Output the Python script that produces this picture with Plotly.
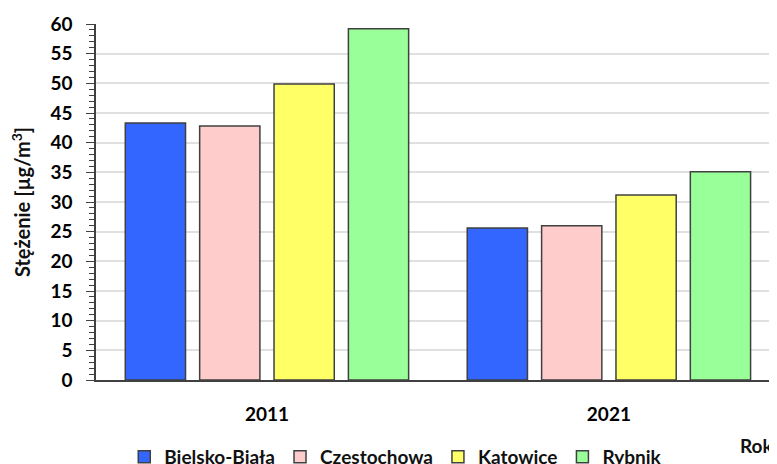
import plotly.graph_objects as go

# Data
years = ["2011", "2021"]
cities = ["Bielsko-Biała", "Czestochowa", "Katowice", "Rybnik"]
bielsko = [43.3, 25.6]
czestochowa = [42.8, 26.0]
katowice = [49.9, 31.2]
rybnik = [59.2, 35.1]
y_ticks = list(range(0, 61, 5))

colors = ["#3366FF", "#FFCCCC", "#FFFF66", "#99FF99"]
series = [bielsko, czestochowa, katowice, rybnik]

# the page body adds an 8px offset, so the layout below is shifted by -8px
font_family = "Lato, 'Open Sans', sans-serif"
tick_font = dict(family=font_family, size=19, color="black", weight="bold")
label_font = dict(family=font_family, size=19, color="#111111", weight="bold")

fig = go.Figure()
for name, vals, col in zip(cities, series, colors):
    fig.add_trace(go.Bar(
        x=years,
        y=vals,
        name=name,
        marker=dict(color=col, line=dict(color="#404040", width=1.5)),
    ))

fig.update_layout(
    width=777,
    height=464,
    barmode="group",
    bargap=0.13,
    bargroupgap=0.19,
    plot_bgcolor="white",
    paper_bgcolor="white",
    margin=dict(l=88, r=0, t=16, b=92, autoexpand=False),
    font=label_font,
    showlegend=True,
    legend=dict(
        orientation="h",
        x=0.041,
        xanchor="left",
        y=-0.216,
        yanchor="middle",
        font=label_font,
        itemwidth=30,
    ),
)

fig.update_xaxes(
    type="category",
    range=[-0.5, 1.515],
    automargin=False,
    showline=True,
    linecolor="#404040",
    linewidth=1.5,
    ticks="",
    ticklabelstandoff=16,
    tickfont=tick_font,
    showgrid=False,
)

fig.update_yaxes(
    range=[0, 60],
    automargin=False,
    tickvals=y_ticks,
    showline=True,
    linecolor="#404040",
    linewidth=1.5,
    ticks="outside",
    ticklen=8,
    tickcolor="#404040",
    ticklabelstandoff=10,
    tickfont=tick_font,
    showgrid=True,
    gridcolor="#E0E0E0",
    gridwidth=1.5,
    zeroline=False,
    minor=dict(dtick=1, ticks="outside", ticklen=5, tickcolor="#404040", showgrid=False),
    title=dict(text="Stężenie [µg/m<sup>3</sup>]",
               font=dict(family=font_family, size=20, color="#111111", weight="bold"),
               standoff=15),
)

fig.add_annotation(
    text="Rok",
    xref="paper", yref="paper",
    x=0.985, y=-0.185,
    xanchor="right", yanchor="middle",
    showarrow=False,
    font=label_font,
)

fig.write_html("out.html")
